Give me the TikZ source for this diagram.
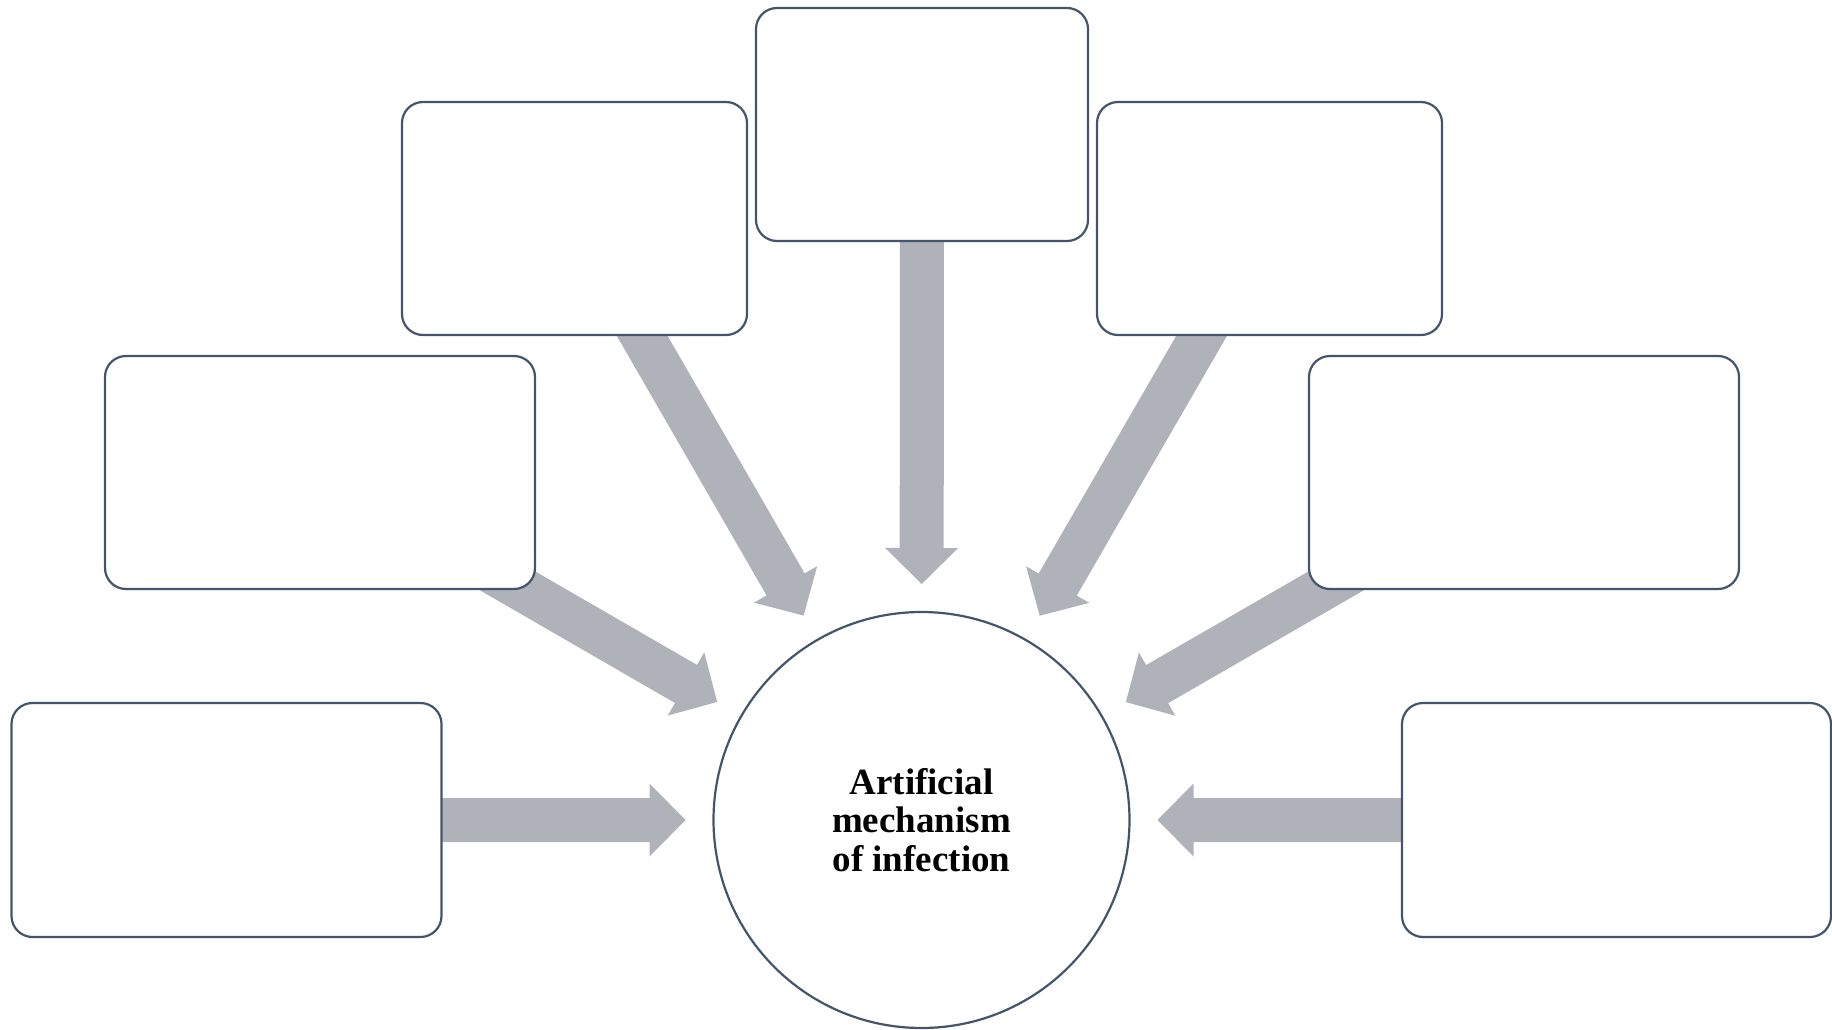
\documentclass[tikz,border=0pt]{standalone}
\usepackage{fontspec}
\setmainfont{Liberation Serif}
\usetikzlibrary{calc,backgrounds}
\definecolor{edgeslate}{HTML}{44546A}
\definecolor{arrowgrey}{RGB}{175,178,185}
\tikzset{
  box/.style={rectangle, draw=edgeslate, line width=2.2pt, fill=white,
    rounded corners=21pt, inner sep=0pt, minimum height=233pt},
  hub/.style={circle, draw=edgeslate, line width=2.2pt, fill=white,
    minimum size=416pt, inner sep=0pt, align=center,
    font=\fontsize{37pt}{38.5pt}\selectfont\bfseries},
  fatarrow/.style={fill=arrowgrey, draw=none}
}
% wide block arrow from a box (#1) towards the hub
\newcommand{\fatarrowfrom}[1]{%
  \coordinate (t#1) at ($(hub.center)!236pt!(#1.center)$);
  \coordinate (h#1) at ($(hub.center)!272pt!(#1.center)$);
  \fill[fatarrow]
    ($(#1.center)!22pt!90:(hub.center)$) --
    ($(h#1)!22pt!-90:(#1.center)$) --
    ($(h#1)!36.5pt!-90:(#1.center)$) --
    (t#1) --
    ($(h#1)!36.5pt!90:(#1.center)$) --
    ($(h#1)!22pt!90:(#1.center)$) --
    ($(#1.center)!22pt!-90:(hub.center)$) -- cycle;
}
\begin{document}
\begin{tikzpicture}[x=1pt,y=-1pt]
\useasboundingbox (0,0) rectangle (1832,1030);
\node[hub] (hub) at (921.5,820) {Artificial\\mechanism\\of infection};
\node[box, minimum width=332pt] (tp) at (922,124.5) {};
\node[box, minimum width=345pt] (ul) at (574.5,218.5) {};
\node[box, minimum width=345pt] (ur) at (1269.5,218.5) {};
\node[box, minimum width=430pt] (ml) at (320,472.5) {};
\node[box, minimum width=430pt] (mr) at (1524,472.5) {};
\node[box, minimum width=430pt, minimum height=234pt] (bl) at (226.5,820) {};
\node[box, minimum width=429pt, minimum height=234pt] (br) at (1616.5,820) {};
\begin{pgfonlayer}{background}
  \fatarrowfrom{tp}
  \fatarrowfrom{ul}
  \fatarrowfrom{ur}
  \fatarrowfrom{ml}
  \fatarrowfrom{mr}
  \fatarrowfrom{bl}
  \fatarrowfrom{br}
\end{pgfonlayer}
\end{tikzpicture}
\end{document}
